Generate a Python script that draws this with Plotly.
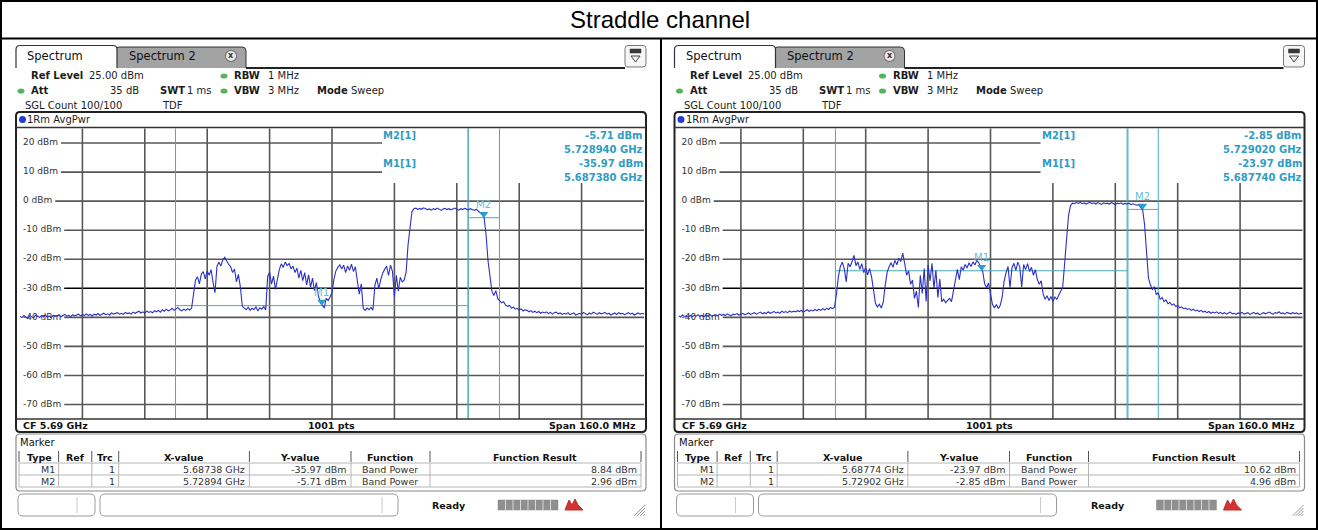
import plotly.graph_objects as go

W, H = 1318, 530
UI = "DejaVu Sans"
TITLE_FONT = "Liberation Sans"

# ---------------- data ----------------
TITLE = "Straddle channel"
CENTER_GHZ = 5.69
SPAN_GHZ = 0.16
SWEEP_POINTS = 321
TOP_DBM = 25.0
BOTTOM_DBM = -75.0
Y_TICKS_DBM = [20, 10, 0, -10, -20, -30, -40, -50, -60, -70]
Y_TICK_LABELS = ["20 dBm", "10 dBm", "0 dBm", "-10 dBm", "-20 dBm", "-30 dBm",
                 "-40 dBm", "-50 dBm", "-60 dBm", "-70 dBm"]
DISPLAY_LINE_DBM = -30

MARKER_NAMES = ["M1", "M2"]
MARKER_FUNCTION = ["Band Power", "Band Power"]
BAND_SPAN_GHZ = [0.075, 0.008]
TABLE_HEADERS = ["Type", "Ref", "Trc", "X-value", "Y-value", "Function", "Function Result"]

LEFT_MARKER_GHZ = [5.68738, 5.72894]
LEFT_MARKER_DBM = [-35.97, -5.71]
LEFT_RESULT_DBM = [8.84, 2.96]

RIGHT_MARKER_GHZ = [5.68774, 5.72902]
RIGHT_MARKER_DBM = [-23.97, -2.85]
RIGHT_RESULT_DBM = [10.62, 4.96]

# trace levels, one value per 0.5 MHz from 5.61 GHz to 5.77 GHz (rows = 5 MHz)
LEFT_LEVELS_DBM = [
    -39.6, -40.1, -39.4, -39.9, -40.3, -39.5, -39.8, -40.2, -39.3, -39.7,
    -40.0, -39.4, -39.8, -39.2, -39.9, -39.6, -40.1, -39.3, -39.7, -39.5,
    -39.1, -39.8, -39.4, -39.0, -39.6, -39.3, -39.8, -39.1, -39.5, -39.2,
    -38.9, -39.5, -39.1, -39.4, -38.8, -39.3, -39.0, -39.6, -38.9, -39.2,
    -38.7, -39.3, -38.9, -38.6, -39.1, -38.8, -39.2, -38.5, -38.9, -38.7,
    -38.4, -38.9, -38.6, -39.0, -38.3, -38.7, -38.5, -38.9, -38.2, -38.6,
    -38.3, -37.9, -38.5, -38.1, -38.6, -37.8, -38.3, -38.0, -38.4, -37.7,
    -38.1, -37.6, -38.2, -37.4, -37.9, -37.2, -37.8, -37.5, -36.9, -37.6,
    -37.1, -36.6, -37.4, -37.8, -37.2, -37.6, -37.0, -37.5, -36.8, -32.0,
    -27.2, -26.0, -28.5, -25.1, -24.3, -26.8, -24.0, -25.5, -23.6, -28.0,
    -31.5, -22.5, -21.0, -22.3, -20.2, -19.3, -20.6, -21.8, -22.5, -24.6,
    -23.4, -27.8, -25.2, -29.5, -36.2, -36.8, -37.4, -36.5, -37.6, -36.9,
    -37.3, -36.4, -37.8, -36.7, -37.2, -36.3, -37.5, -26.0, -24.5, -28.6,
    -25.8, -30.4, -27.0, -23.5, -21.6, -22.8, -21.0, -22.2, -21.5, -23.3,
    -22.4, -24.6, -23.1, -26.5, -23.8, -27.4, -24.6, -28.8, -25.4, -29.6,
    -26.5, -30.8, -28.0, -32.5, -34.8, -36.0, -36.8, -33.5, -34.2, -33.0,
    -31.5, -26.8, -24.0, -22.8, -21.9, -23.4, -22.0, -24.6, -22.3, -23.8,
    -21.7, -24.2, -22.6, -27.5, -32.0, -28.5, -36.9, -37.6, -36.8, -37.4,
    -36.6, -37.5, -29.0, -26.5, -30.2, -27.0, -24.8, -23.5, -22.4, -25.6,
    -22.0, -24.2, -32.8, -25.5, -31.0, -26.2, -27.8, -27.2, -24.5, -15.0,
    -8.0, -3.6, -2.6, -2.4, -2.9, -2.5, -2.8, -2.3, -2.6, -2.9,
    -2.7, -3.1, -2.6, -2.9, -2.4, -2.8, -3.2, -2.7, -2.5, -2.9,
    -2.6, -3.0, -2.7, -2.4, -2.8, -3.1, -2.6, -2.9, -2.5, -2.8,
    -3.0, -2.6, -2.9, -3.2, -2.8, -3.4, -3.9, -4.6, -5.7, -11.5,
    -20.5, -27.0, -31.0, -32.5, -30.8, -33.6, -34.2, -35.0, -34.6, -35.8,
    -36.2, -35.9, -36.8, -36.5, -37.2, -36.9, -37.5, -37.1, -37.8, -37.4,
    -37.6, -38.1, -37.7, -38.3, -37.9, -38.4, -38.0, -38.6, -38.2, -38.5,
    -38.1, -38.7, -38.3, -38.9, -38.4, -38.2, -38.8, -38.5, -39.0, -38.6,
    -38.9, -38.4, -39.1, -38.7, -38.5, -39.2, -38.8, -38.6, -39.0, -38.3,
    -38.8, -39.1, -38.5, -38.9, -38.2, -38.7, -39.0, -38.4, -38.8, -38.6,
    -38.3, -38.9, -38.6, -39.2, -38.7, -38.5, -39.0, -38.4, -38.8, -38.6,
    -39.1, -38.7, -38.4, -38.9, -38.6, -39.2, -38.8, -38.5, -38.9, -38.7,
    -38.8,
]

RIGHT_LEVELS_DBM = [
    -39.4, -39.9, -39.2, -39.7, -39.5, -40.0, -39.3, -39.8, -39.4, -39.6,
    -39.1, -39.7, -39.3, -39.9, -39.2, -39.5, -39.0, -39.6, -39.3, -39.1,
    -39.5, -38.9, -39.3, -39.0, -39.4, -38.8, -39.2, -39.5, -38.9, -39.1,
    -38.7, -39.2, -38.9, -38.6, -39.1, -38.8, -38.5, -39.0, -38.7, -38.4,
    -38.9, -38.5, -38.2, -38.8, -38.4, -38.7, -38.1, -38.6, -38.3, -38.0,
    -38.5, -38.2, -38.6, -37.9, -38.3, -38.0, -38.4, -37.8, -38.2, -37.9,
    -38.1, -37.7, -38.0, -37.6, -38.2, -37.8, -37.4, -37.9, -37.5, -37.8,
    -37.3, -37.7, -37.2, -37.6, -37.0, -37.5, -36.9, -37.3, -36.6, -37.0,
    -36.5, -32.0, -26.0, -22.5, -21.0, -23.2, -27.8, -21.4, -22.6, -20.8,
    -18.7, -22.2, -21.0, -23.5, -21.5, -24.6, -22.8, -25.4, -23.2, -26.0,
    -30.5, -35.2, -36.4, -35.5, -36.8, -34.8, -29.0, -24.5, -22.6, -21.2,
    -22.8, -20.4, -21.9, -19.6, -20.8, -17.9, -21.5, -25.5, -24.0, -28.6,
    -27.2, -33.5, -31.0, -36.6, -25.5, -31.8, -23.2, -34.5, -22.0, -27.5,
    -21.4, -30.0, -23.8, -33.2, -26.8, -34.6, -33.8, -35.0, -34.2, -33.5,
    -34.6, -30.5, -26.5, -23.5, -27.0, -22.6, -23.8, -21.8, -23.0, -21.2,
    -22.5, -20.9, -22.0, -20.4, -21.3, -23.0, -24.2, -28.5, -29.8, -28.2,
    -31.5, -35.5, -36.8, -35.6, -37.0, -35.9, -33.0, -27.5, -24.6, -22.5,
    -29.8, -23.0, -21.4, -23.8, -21.0, -22.6, -29.6, -21.8, -23.6, -21.5,
    -24.2, -22.8, -25.5, -23.6, -27.0, -28.6, -27.4, -32.0, -33.8, -32.6,
    -34.2, -32.8, -34.6, -33.0, -33.8, -32.2, -31.0, -29.8, -21.5, -11.5,
    -5.0, -1.6, -0.7, -0.9, -0.5, -0.8, -0.4, -0.9, -0.6, -1.0,
    -0.7, -0.4, -0.9, -0.6, -1.0, -0.5, -0.8, -1.1, -0.6, -0.9,
    -0.7, -1.0, -0.5, -0.8, -1.2, -0.7, -0.9, -0.6, -1.1, -0.8,
    -1.0, -0.7, -1.2, -0.9, -1.1, -1.4, -1.2, -1.9, -2.9, -8.0,
    -18.0, -26.5, -28.8, -30.5, -29.4, -32.2, -31.5, -33.8, -33.2, -34.6,
    -34.0, -35.3, -34.9, -35.8, -35.4, -36.3, -35.9, -36.7, -36.4, -37.0,
    -36.8, -37.3, -37.0, -37.6, -37.2, -37.8, -37.5, -38.0, -37.6, -38.2,
    -37.9, -38.4, -38.0, -38.6, -38.2, -38.5, -38.1, -38.7, -38.3, -38.8,
    -38.4, -38.9, -38.5, -38.2, -38.8, -38.6, -39.0, -38.5, -38.7, -38.3,
    -38.9, -38.6, -38.4, -39.0, -38.7, -38.3, -38.8, -38.5, -39.1, -38.6,
    -38.4, -38.8, -38.5, -38.2, -38.7, -38.9, -38.4, -38.6, -38.1, -38.7,
    -38.5, -38.9, -38.3, -38.6, -38.8, -38.4, -38.7, -38.5, -38.9, -38.6,
    -38.7,
]

START_GHZ = CENTER_GHZ - SPAN_GHZ / 2
STOP_GHZ = CENTER_GHZ + SPAN_GHZ / 2
SWEEP_GHZ = [START_GHZ + i * SPAN_GHZ / (SWEEP_POINTS - 1) for i in range(SWEEP_POINTS)]

# ---------------- styling ----------------
TRACE_C = "#2b31c4"
CYAN = "#4aa9bd"
INFO_C = "#2f9cc4"
MLABEL_C = "#62bfd8"
GRID_C = "#575757"
TXT = "#1c1c1c"

PLOT_L, PLOT_R = 20.0, 644.0
PLOT_T, PLOT_B = 128.5, 419.0
INFO_LEFT = 382.0
INFO_BOTTOM = 183.0
PANEL_DX = [0.0, 658.5]

shapes, annotations = [], []


def fx(x):
    return x / W


def fy(y):
    return 1 - y / H


def T(x, y, s, size=10, color=TXT, bold=False, anchor="left", family=UI):
    if bold:
        s = "<b>" + s + "</b>"
    annotations.append(dict(x=fx(x), y=fy(y), xref="paper", yref="paper", text=s,
                            showarrow=False, xanchor=anchor, yanchor="middle",
                            borderpad=0, borderwidth=0,
                            font=dict(family=family, size=size, color=color)))


def L(x0, y0, x1, y1, color="#222", w=1.0, layer="above"):
    shapes.append(dict(type="line", xref="paper", yref="paper", x0=fx(x0), y0=fy(y0),
                       x1=fx(x1), y1=fy(y1), line=dict(color=color, width=w), layer=layer))


def R(x0, y0, x1, y1, line="#222", fill=None, w=1.0):
    shapes.append(dict(type="rect", xref="paper", yref="paper", x0=fx(x0), y0=fy(y1),
                       x1=fx(x1), y1=fy(y0), line=dict(color=line, width=w),
                       fillcolor=fill if fill else "rgba(0,0,0,0)"))


def RR(x0, y0, x1, y1, r, line="#222", fill=None, w=1.0, top_only=False):
    if top_only:
        p = (f"M{fx(x0)},{fy(y1)} L{fx(x0)},{fy(y0 + r)} Q{fx(x0)},{fy(y0)} {fx(x0 + r)},{fy(y0)} "
             f"L{fx(x1 - r)},{fy(y0)} Q{fx(x1)},{fy(y0)} {fx(x1)},{fy(y0 + r)} L{fx(x1)},{fy(y1)}")
    else:
        p = (f"M{fx(x0 + r)},{fy(y0)} L{fx(x1 - r)},{fy(y0)} Q{fx(x1)},{fy(y0)} {fx(x1)},{fy(y0 + r)} "
             f"L{fx(x1)},{fy(y1 - r)} Q{fx(x1)},{fy(y1)} {fx(x1 - r)},{fy(y1)} "
             f"L{fx(x0 + r)},{fy(y1)} Q{fx(x0)},{fy(y1)} {fx(x0)},{fy(y1 - r)} "
             f"L{fx(x0)},{fy(y0 + r)} Q{fx(x0)},{fy(y0)} {fx(x0 + r)},{fy(y0)} Z")
    shapes.append(dict(type="path", xref="paper", yref="paper", path=p,
                       line=dict(color=line, width=w),
                       fillcolor=fill if fill else "rgba(0,0,0,0)"))


def dot(cx, cy, rx, ry, color):
    shapes.append(dict(type="circle", xref="paper", yref="paper", x0=fx(cx - rx), x1=fx(cx + rx),
                       y0=fy(cy + ry), y1=fy(cy - ry), fillcolor=color, line=dict(width=0)))


CW = {'-': 0.361, ' ': 0.318, 'd': 0.635, 'B': 0.686, 'm': 0.974}


def label_width(s, size):
    return sum(CW.get(c, 0.636) for c in s) * size


# ---------------- page frame ----------------
L(0, 1, W, 1, "#000", 2)
L(1, 0, 1, H, "#000", 2)
L(W - 1, 0, W - 1, H, "#000", 2)
L(0, H - 1, W, H - 1, "#000", 2)
L(0, 38.5, W, 38.5, "#000", 2)
L(661, 38.5, 661, H, "#000", 2)
T(660, 20, TITLE, size=24, color="#000", anchor="center", family=TITLE_FONT)

fig = go.Figure()

panels = [
    (PANEL_DX[0], "x", "y", LEFT_LEVELS_DBM, LEFT_MARKER_GHZ, LEFT_MARKER_DBM, LEFT_RESULT_DBM),
    (PANEL_DX[1], "x2", "y2", RIGHT_LEVELS_DBM, RIGHT_MARKER_GHZ, RIGHT_MARKER_DBM, RIGHT_RESULT_DBM),
]

layout_axes = {}
for idx, (dx, xa, ya, levels, mk_x, mk_y, res) in enumerate(panels):
    # ---- tabs / header ----
    RR(115 + dx, 47, 246 + dx, 68, 4, line="#333", fill="#a3a3a3", w=1, top_only=True)
    RR(16 + dx, 45.5, 117 + dx, 68, 4, line="#333", fill="#ffffff", w=1.2, top_only=True)
    T(27 + dx, 56, "Spectrum", size=11.5, color="#111")
    T(129 + dx, 56, "Spectrum 2", size=11.5, color="#111")
    dot(231 + dx, 56, 6, 6, "#6d6d6d")
    dot(231 + dx, 56, 5, 5, "#e8e8e8")
    T(231 + dx, 56, "x", size=8, color="#333", bold=True, anchor="center")
    L(246 + dx, 68, 625 + dx, 68, "#222", 2)
    RR(625 + dx, 45.5, 646 + dx, 67, 3, line="#777", fill="#f6f6f6", w=1)
    R(630 + dx, 49, 641 + dx, 53, line="#333", fill="#3a3a3a", w=0.5)
    shapes.append(dict(type="path", xref="paper", yref="paper",
                       path=f"M{fx(631 + dx)},{fy(56)} L{fx(640 + dx)},{fy(56)} L{fx(635.5 + dx)},{fy(62)} Z",
                       line=dict(color="#444", width=1), fillcolor="rgba(0,0,0,0)"))

    T(31 + dx, 76, "Ref Level", size=10, bold=True)
    T(89 + dx, 76, "25.00 dBm", size=10)
    dot(224 + dx, 76, 3.5, 2.6, "#56b35a")
    T(234 + dx, 76, "RBW", size=10, bold=True)
    T(268 + dx, 76, "1 MHz", size=10)
    dot(21 + dx, 91, 3.5, 2.6, "#56b35a")
    T(31 + dx, 91, "Att", size=10, bold=True)
    T(139 + dx, 91, "35 dB", size=10, anchor="right")
    T(160 + dx, 91, "SWT", size=10, bold=True)
    T(187 + dx, 91, "1 ms", size=10)
    dot(224 + dx, 91, 3.5, 2.6, "#56b35a")
    T(234 + dx, 91, "VBW", size=10, bold=True)
    T(268 + dx, 91, "3 MHz", size=10)
    T(317 + dx, 91, "Mode", size=10, bold=True)
    T(351 + dx, 91, "Sweep", size=10)
    T(25 + dx, 105, "SGL Count 100/100", size=10)
    T(162 + dx, 105, "TDF", size=10)

    # ---- plot frame ----
    RR(16 + dx, 112, 646 + dx, 432, 4, line="#222", fill=None, w=2)
    dot(22.5 + dx, 119.5, 3.5, 3.5, "#1f3fd4")
    T(27 + dx, 119.5, "1Rm AvgPwr", size=10)
    L(16 + dx, PLOT_T - 1, 646 + dx, PLOT_T - 1, "#333", 1.5)
    L(16 + dx, PLOT_B, 646 + dx, PLOT_B, "#333", 1.5)
    T(23 + dx, 425.5, "CF 5.69 GHz", size=9.5, bold=True, color="#111")
    T(331 + dx, 425.5, "1001 pts", size=9.5, bold=True, color="#111", anchor="center")
    T(636 + dx, 425.5, "Span 160.0 MHz", size=9.5, bold=True, color="#111", anchor="right")

    # ---- axes ----
    xd = [(PLOT_L + dx) / W, (PLOT_R + dx) / W]
    yd = [1 - PLOT_B / H, 1 - PLOT_T / H]
    xname = "xaxis" if idx == 0 else "xaxis2"
    yname = "yaxis" if idx == 0 else "yaxis2"
    layout_axes[xname] = dict(domain=xd, range=[START_GHZ, STOP_GHZ], visible=False,
                              showgrid=False, zeroline=False, anchor=ya)
    layout_axes[yname] = dict(domain=yd, range=[BOTTOM_DBM, TOP_DBM], visible=False,
                              showgrid=False, zeroline=False, anchor=xa)
    xdom, ydom = xa + " domain", ya + " domain"
    plot_w = PLOT_R - PLOT_L
    plot_h = PLOT_B - PLOT_T
    info_xfrac = (INFO_LEFT - PLOT_L) / plot_w
    info_yfrac = 1 - (INFO_BOTTOM - PLOT_T) / plot_h

    # horizontal grid lines (start after their labels)
    for v, lab in zip(Y_TICKS_DBM, Y_TICK_LABELS):
        start = (23 + label_width(lab, 9) + 3 - PLOT_L) / plot_w
        end = info_xfrac if v > 6 else 1.0
        col = "#000" if v == DISPLAY_LINE_DBM else GRID_C
        shapes.append(dict(type="line", xref=xdom, yref=ya, x0=start, x1=end, y0=v, y1=v,
                           line=dict(color=col, width=1.6), layer="below"))
    # vertical grid lines
    for k in range(1, 10):
        f = START_GHZ + SPAN_GHZ * k / 10
        pxx = PLOT_L + plot_w * k / 10
        top = info_yfrac if pxx > INFO_LEFT else 1.0
        shapes.append(dict(type="line", xref=xa, yref=ydom, x0=f, x1=f, y0=0, y1=top,
                           line=dict(color=GRID_C, width=1.6), layer="below"))
    # band power lines
    for m in range(2):
        lo = mk_x[m] - BAND_SPAN_GHZ[m] / 2
        hi = mk_x[m] + BAND_SPAN_GHZ[m] / 2
        for f in (lo, hi):
            shapes.append(dict(type="line", xref=xa, yref=ydom, x0=f, x1=f, y0=0, y1=1,
                               line=dict(color=CYAN, width=1), layer="below"))
        shapes.append(dict(type="line", xref=xa, yref=ya, x0=lo, x1=hi, y0=mk_y[m], y1=mk_y[m],
                           line=dict(color=CYAN, width=1), layer="below"))

    # tick labels (drawn under the trace)
    lab_x = START_GHZ + SPAN_GHZ * (23 - PLOT_L) / plot_w
    fig.add_trace(go.Scatter(x=[lab_x] * len(Y_TICKS_DBM), y=Y_TICKS_DBM, text=Y_TICK_LABELS,
                             mode="text", textposition="middle right", xaxis=xa, yaxis=ya,
                             textfont=dict(family=UI, size=9, color="#333"),
                             hoverinfo="skip", showlegend=False, cliponaxis=False))
    # spectrum trace
    fig.add_trace(go.Scatter(x=SWEEP_GHZ, y=levels, mode="lines", xaxis=xa, yaxis=ya,
                             line=dict(color=TRACE_C, width=1.1), showlegend=False))
    # marker symbols
    fig.add_trace(go.Scatter(x=mk_x, y=[v + 1.3 for v in mk_y], mode="markers", xaxis=xa, yaxis=ya,
                             marker=dict(symbol="triangle-down", size=8, color="#279fd4"),
                             showlegend=False, hoverinfo="skip"))
    for m in range(2):
        annotations.append(dict(x=mk_x[m], y=mk_y[m], xref=xa, yref=ya, text=MARKER_NAMES[m],
                                showarrow=False, yshift=13, xanchor="center", yanchor="middle",
                                font=dict(family=UI, size=10, color=MLABEL_C)))

    # marker info box
    T(383 + dx, 135, "M2[1]", size=10, bold=True, color=INFO_C)
    T(383 + dx, 163, "M1[1]", size=10, bold=True, color=INFO_C)
    T(643 + dx, 135, f"{mk_y[1]:.2f} dBm", size=10, bold=True, color=INFO_C, anchor="right")
    T(643 + dx, 149, f"{mk_x[1]:.6f} GHz", size=10, bold=True, color=INFO_C, anchor="right")
    T(643 + dx, 163, f"{mk_y[0]:.2f} dBm", size=10, bold=True, color=INFO_C, anchor="right")
    T(643 + dx, 177, f"{mk_x[0]:.6f} GHz", size=10, bold=True, color=INFO_C, anchor="right")

    # ---- marker table ----
    RR(16 + dx, 434, 646 + dx, 491, 4, line="#8a8a8a", fill=None, w=1.2)
    T(20 + dx, 442, "Marker", size=10, color="#111")
    cols = [19, 58.6, 91.8, 118.7, 249.4, 351, 430, 641]
    rows_y = [450, 463, 475, 487]
    for y in rows_y[1:]:
        L(cols[0] + dx, y, cols[-1] + dx, y, "#b5b5b5", 1)
    for c in cols:
        L(c + dx, rows_y[1], c + dx, rows_y[-1], "#b5b5b5", 1)
        L(c + dx, rows_y[0] + 1, c + dx, rows_y[1] - 1, "#555", 1)
    centers = [39, 75, 105, 184, 300, 390, 535]
    for c, h in zip(centers, TABLE_HEADERS):
        T(c + dx, 457, h, size=9.5, bold=True, color="#111", anchor="center")
    for m in range(2):
        y = 469 + 12 * m
        T(55 + dx, y, MARKER_NAMES[m], size=9.5, color="#333", anchor="right")
        T(115 + dx, y, "1", size=9.5, color="#333", anchor="right")
        T(245 + dx, y, f"{mk_x[m]:.5f} GHz", size=9.5, color="#333", anchor="right")
        T(346 + dx, y, f"{mk_y[m]:.2f} dBm", size=9.5, color="#333", anchor="right")
        T(390 + dx, y, MARKER_FUNCTION[m], size=9.5, color="#333", anchor="center")
        T(637 + dx, y, f"{res[m]:.2f} dBm", size=9.5, color="#333", anchor="right")

    # ---- status bar ----
    RR(18 + dx, 494, 95 + dx, 516, 5, line="#9a9a9a", fill=None, w=1)
    L(77 + dx, 497, 77 + dx, 513, "#c8c8c8", 1)
    RR(100 + dx, 494, 398 + dx, 516, 5, line="#9a9a9a", fill=None, w=1)
    L(382 + dx, 497, 382 + dx, 513, "#c8c8c8", 1)
    T(432 + dx, 505, "Ready", size=9.5, bold=True, color="#111")
    R(498 + dx, 500, 558 + dx, 510, line="#8a8a8a", fill="#8f8f8f", w=0.5)
    for k in range(1, 8):
        L(498 + dx + 7.5 * k, 500, 498 + dx + 7.5 * k, 510, "#d8d8d8", 1)
    shapes.append(dict(type="path", xref="paper", yref="paper",
                       path=(f"M{fx(565 + dx)},{fy(510)} L{fx(569 + dx)},{fy(500)} L{fx(572 + dx)},{fy(505)} "
                             f"L{fx(575 + dx)},{fy(499)} L{fx(578 + dx)},{fy(505)} L{fx(583 + dx)},{fy(510)} Z"),
                       line=dict(color="#c42a2a", width=1), fillcolor="#d23434"))
    for k in range(4):
        L(634 + dx + 3 * k, 516, 645 + dx, 505 + 3 * k, "#9a9a9a", 1)

fig.update_layout(
    width=W, height=H, autosize=False,
    margin=dict(l=0, r=0, t=0, b=0, pad=0),
    paper_bgcolor="#ffffff", plot_bgcolor="rgba(0,0,0,0)",
    showlegend=False, shapes=shapes, annotations=annotations,
    hovermode=False,
    **layout_axes,
)
fig.write_html("out.html")
